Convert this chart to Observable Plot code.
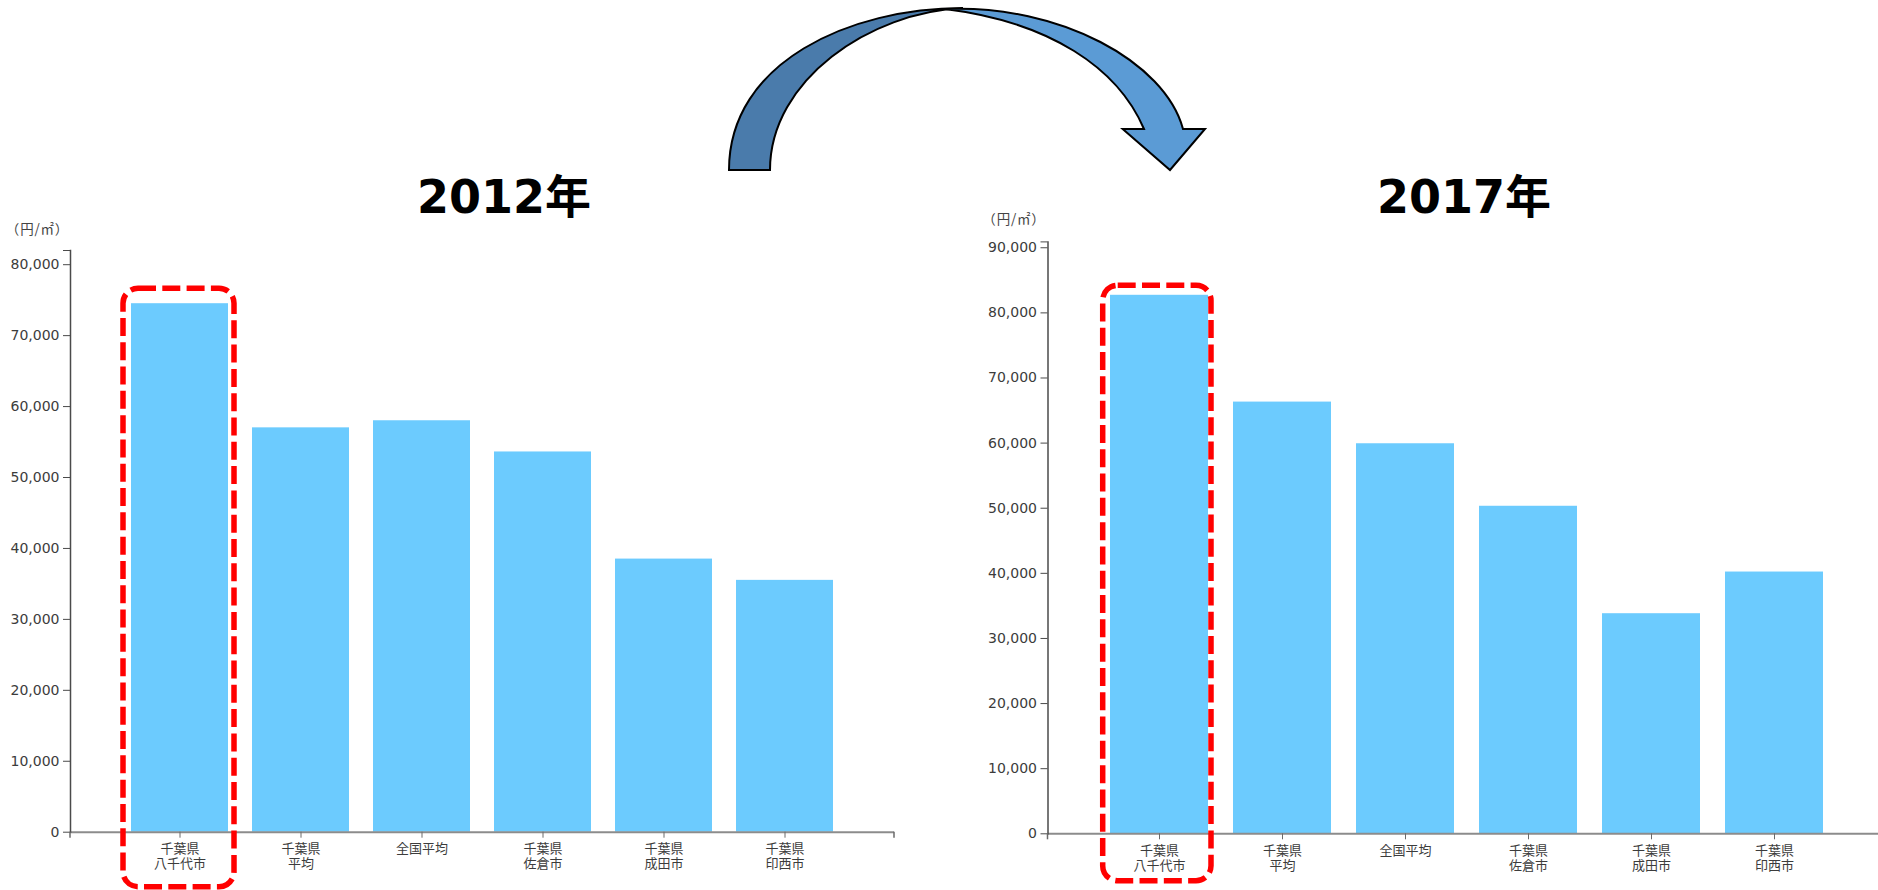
<!DOCTYPE html>
<html lang="ja">
<head>
<meta charset="utf-8">
<script src="https://cdn.jsdelivr.net/npm/d3@7"></script>
<script src="https://cdn.jsdelivr.net/npm/@observablehq/plot@0.6"></script>
<style>
  html, body { margin: 0; padding: 0; background: #fff; }
  #page { position: relative; width: 1878px; height: 890px; overflow: hidden; background: #fff; }
  #page > svg, #page > div { position: absolute; }
  .year { font-family: "DejaVu Sans", "Noto Sans CJK JP", sans-serif; font-weight: bold; font-size: 46px; fill: #000; }
  .unit { font-family: "Noto Sans CJK JP", sans-serif; font-size: 13.5px; letter-spacing: 0.8px; fill: #444; }
</style>
</head>
<body>
<div id="page"></div>
<script>
// 地価（円/㎡）：八千代市と周辺・平均の比較
const categories = ["千葉県\n八千代市", "千葉県\n平均", "全国平均", "千葉県\n佐倉市", "千葉県\n成田市", "千葉県\n印西市"];
const prices2012 = [74500, 57000, 58000, 53600, 38500, 35500];
const prices2017 = [82700, 66300, 59900, 50300, 33800, 40200];
const ticks2012 = [0, 10000, 20000, 30000, 40000, 50000, 60000, 70000, 80000];
const ticks2017 = [0, 10000, 20000, 30000, 40000, 50000, 60000, 70000, 80000, 90000];
const highlighted = "千葉県\n八千代市";
const years = ["2012年", "2017年"];
const unitLabel = "（円/㎡）";

const page = document.getElementById("page");
const fmt = d3.format(",");

function priceChart({values, ticks, yMax, left, width, marginLeft, marginRight, marginTop, marginBottom, hl}) {
  const rows = categories.map((category, i) => ({category, price: values[i]}));
  const chart = Plot.plot({
    width, height: 890,
    marginLeft, marginRight, marginTop, marginBottom,
    style: {background: "transparent", color: "#3c3c3c", overflow: "visible"},
    x: {domain: categories, paddingInner: 0.2, paddingOuter: 0.5, align: 0.5},
    y: {domain: [0, yMax]},
    marks: [
      Plot.barY(rows, {x: "category", y: "price", fill: "#6ccbfe"}),
      Plot.ruleY([0], {stroke: "#8c8c8c", strokeWidth: 2}),
      Plot.frame({anchor: "left", stroke: "#4a4a4a", strokeWidth: 1.5}),
      Plot.axisY({
        ticks: [...ticks, yMax],
        tickFormat: d => d === yMax ? "" : fmt(d),
        tickSize: 7, tickPadding: 4, stroke: "#4a4a4a",
        fontSize: 14, fontFamily: "DejaVu Sans, sans-serif",
        label: null
      }),
      Plot.axisX({
        tickSize: 6, tickPadding: 4, stroke: "#6a6a6a",
        fontSize: 13, fontFamily: "Noto Sans CJK JP, sans-serif", lineHeight: 1.18,
        label: null
      }),
      // 八千代市を囲む赤い破線の枠
      Plot.barY(rows.filter(d => d.category === highlighted), {
        x: "category", y: "price",
        fill: "none", stroke: "#ff0000", strokeWidth: 5.5, strokeDasharray: "18,6.3",
        rx: 15,
        insetLeft: hl.left, insetRight: hl.right, insetTop: hl.top, insetBottom: hl.bottom
      })
    ]
  });
  // x軸両端の外側目盛り
  const [x0, x1] = chart.scale("x").range;
  const y0 = chart.scale("y").apply(0);
  const svg = d3.select(chart);
  for (const x of [x0, x1]) {
    svg.append("line")
      .attr("x1", x).attr("x2", x).attr("y1", y0).attr("y2", y0 + 6)
      .attr("stroke", "#6a6a6a").attr("stroke-width", 1.5);
  }
  chart.style.left = left + "px";
  chart.style.top = "0px";
  page.appendChild(chart);
  return chart;
}

priceChart({
  values: prices2012, ticks: ticks2012, yMax: 82000,
  left: 0, width: 920, marginLeft: 70, marginRight: 26, marginTop: 250, marginBottom: 58.3,
  hl: {left: -8, right: -6, top: -15, bottom: -55}
});

priceChart({
  values: prices2017, ticks: ticks2017, yMax: 90900,
  left: 960, width: 940, marginLeft: 87.5, marginRight: 14.8, marginTop: 241.4, marginBottom: 56.7,
  hl: {left: -7.3, right: -3, top: -9.5, bottom: -47.4}
});

// 見出し・単位・年次をつなぐ矢印
const ns = "http://www.w3.org/2000/svg";
const overlay = d3.select(page).append("svg")
  .attr("xmlns", ns)
  .attr("width", 1878).attr("height", 890)
  .style("left", "0px").style("top", "0px").style("pointer-events", "none");

overlay.append("text").attr("class", "year").attr("x", 417).attr("y", 212.7).text(years[0]);
overlay.append("text").attr("class", "year").attr("x", 1377).attr("y", 212.7).text(years[1]);

overlay.append("text").attr("class", "unit").attr("x", 37.5).attr("y", 227.7)
  .attr("text-anchor", "middle").attr("dominant-baseline", "central").text(unitLabel);
overlay.append("text").attr("class", "unit").attr("x", 1014).attr("y", 218.3)
  .attr("text-anchor", "middle").attr("dominant-baseline", "central").text(unitLabel);

overlay.append("path")
  .attr("d", "M729,170 C729,62 850,8 963,8 C870,12 770,80 770,170 Z")
  .attr("fill", "#4a7bab").attr("stroke", "#000").attr("stroke-width", 2).attr("stroke-linejoin", "miter");
overlay.append("path")
  .attr("d", "M945,9 C1060,4 1165,62 1183,129 L1205,129 L1170,170 L1122.7,129 L1144,129 C1118,68 1050,22 945,9 Z")
  .attr("fill", "#5b9bd5").attr("stroke", "#000").attr("stroke-width", 2).attr("stroke-linejoin", "miter");
</script>
</body>
</html>
